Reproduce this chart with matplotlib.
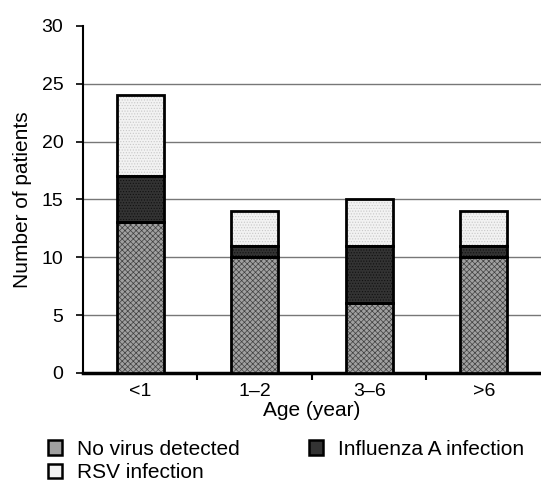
import matplotlib
matplotlib.use("Agg")
import matplotlib.pyplot as plt
import numpy as np
from matplotlib.patches import Patch

ages = ["<1", "1\u20132", "3\u20136", ">6"]
no_virus = [13, 10, 6, 10]
influenza_a = [4, 1, 5, 1]
rsv = [7, 3, 4, 3]

plt.rcParams["font.family"] = ["Liberation Sans", "DejaVu Sans"]
plt.rcParams["hatch.linewidth"] = 0.5

fig = plt.figure(figsize=(5.41, 4.88), dpi=100)
ax = fig.add_axes([0.153, 0.236, 0.847, 0.711])

x = np.arange(len(ages))
width = 0.41
# label, values, face colour, hatch colour, hatch
styles = [
    ("No virus detected", no_virus, "#a0a0a0", "#404040", "xxxxxx"),
    ("Influenza A infection", influenza_a, "#333333", "#111111", "......"),
    ("RSV infection", rsv, "#f2f2f2", "#c8c8c8", "......"),
]

bottom = np.zeros(len(ages))
handles = {}
for label, vals, face, hcol, hatch in styles:
    ax.bar(x, vals, width, bottom=bottom, color=face, edgecolor=hcol,
           linewidth=0, hatch=hatch, zorder=3)
    ax.bar(x, vals, width, bottom=bottom, fill=False, edgecolor="black",
           linewidth=2, zorder=4)
    bottom += np.array(vals)
    handles[label] = Patch(facecolor=face, edgecolor="black", linewidth=1.8,
                           label=label)

ax.set_xlim(-0.5, 3.5)
ax.set_ylim(0, 30)
ax.set_yticks(range(0, 31, 5))
ax.set_xticks(x)
ax.set_xticklabels(ages)
ax.set_xticks(np.arange(0.5, 3.5, 1), minor=True)
ax.tick_params(axis="x", which="major", length=0, pad=7)
ax.tick_params(axis="x", which="minor", length=5, width=1.5, direction="out")
ax.tick_params(axis="y", length=5, width=1.2, direction="out", pad=9)
ax.tick_params(labelsize=14)

ax.hlines(ax.get_yticks()[1:-1], -0.5, 3.5, color="#777777", linewidth=1, zorder=1)

ax.spines["top"].set_visible(False)
ax.spines["right"].set_visible(False)
ax.spines["left"].set_linewidth(1.5)
ax.spines["bottom"].set_linewidth(2.5)

ax.set_xlabel("Age (year)", fontsize=15, labelpad=1)
ax.set_ylabel("Number of patients", fontsize=15, labelpad=7)

order = ["No virus detected", "RSV infection", "Influenza A infection"]
fig.legend(handles=[handles[k] for k in order], loc="upper left",
           bbox_to_anchor=(0.07, 0.12), ncol=2, frameon=False, fontsize=15,
           handlelength=0.68, handleheight=0.68, handletextpad=0.72,
           columnspacing=3.3, labelspacing=0.2, borderpad=0)

fig.savefig("out.png", dpi=100)
